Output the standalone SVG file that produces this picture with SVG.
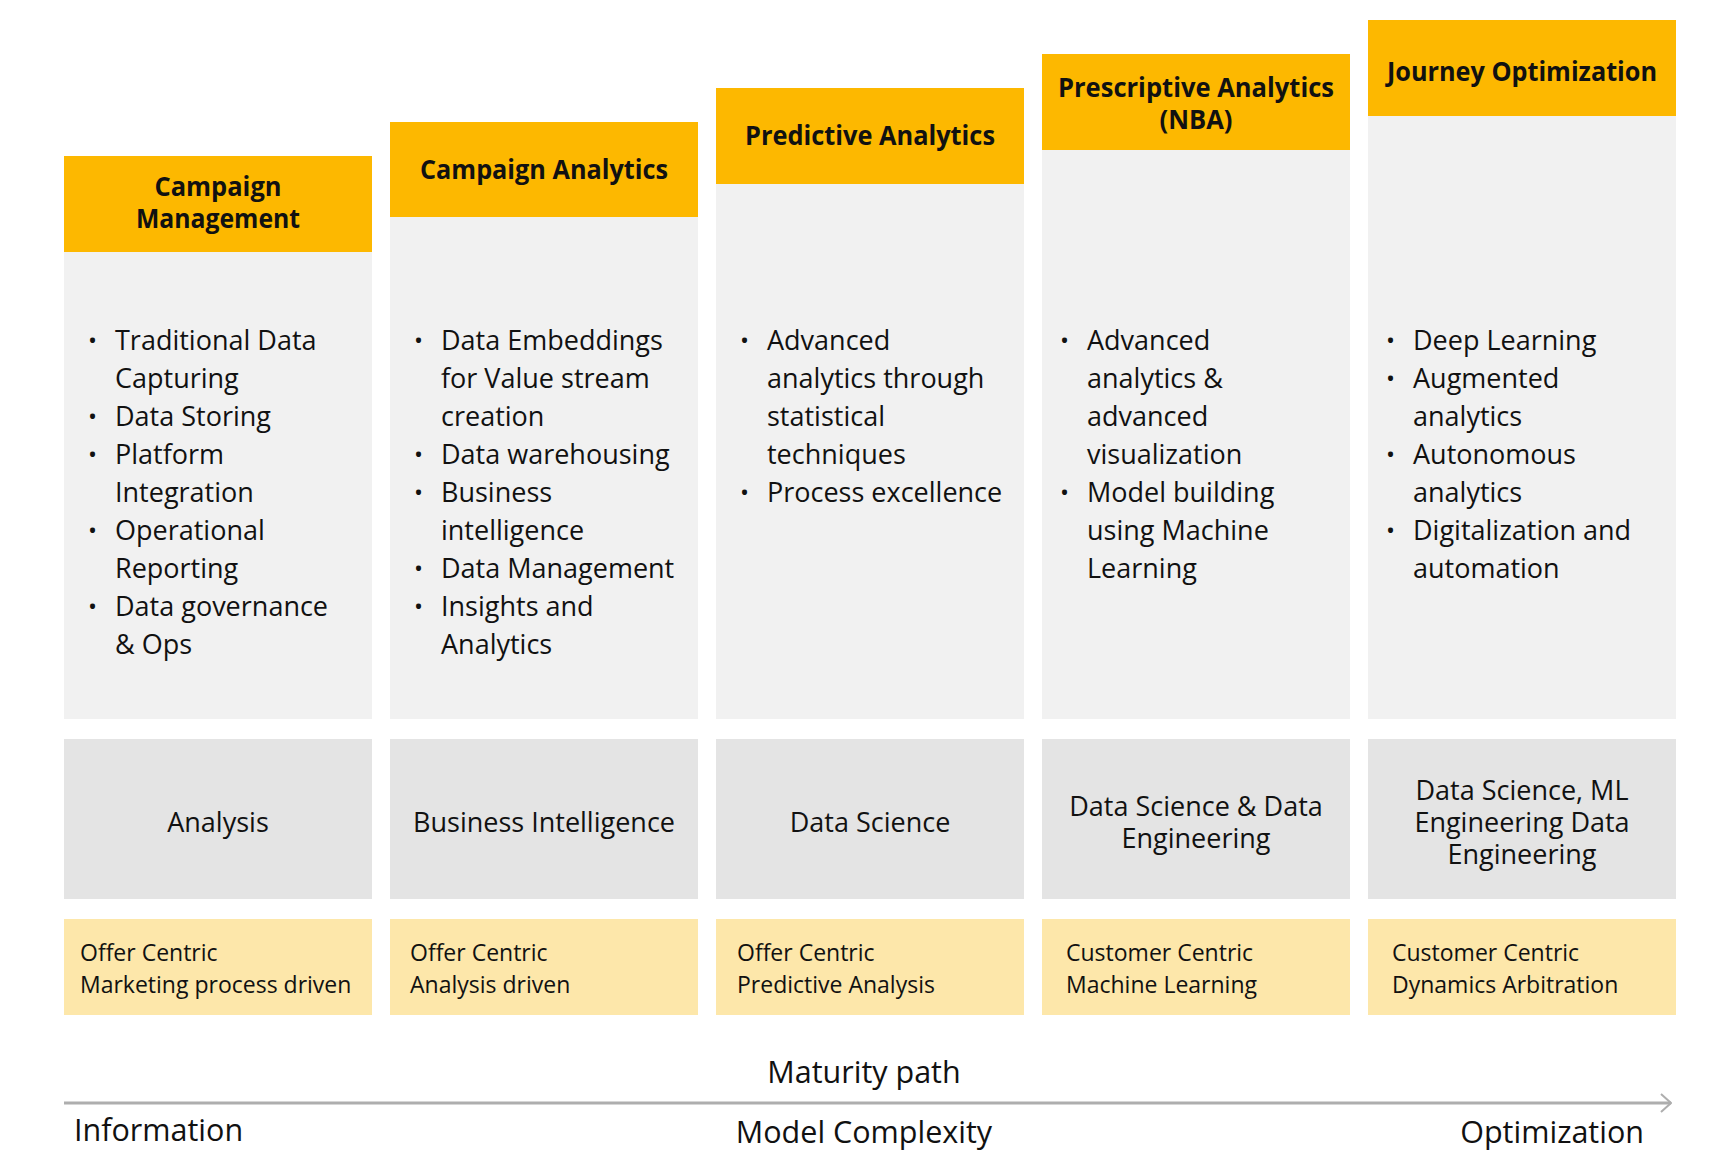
<svg xmlns="http://www.w3.org/2000/svg" width="1730" height="1170" viewBox="0 0 1730 1170">
<style>
.hdr{fill:#FDB800}
.body{fill:#F1F1F1}
.role{fill:#E4E4E4}
.focus{fill:#FDE7AA}
text{font-family:"Open Sans","Noto Sans","DejaVu Sans",sans-serif;fill:#111}
.ht{font-size:26px;font-weight:700;text-anchor:middle}
.bt{font-size:27px}
.bu{font-size:24px}
.rt{font-size:27px;text-anchor:middle}
.ft{font-size:23px}
.ax{font-size:30.5px}
</style>
<defs>
<marker id="chev" viewBox="0 0 12 20" refX="11" refY="10" markerWidth="12" markerHeight="20" markerUnits="userSpaceOnUse" orient="auto">
<path d="M1,1 L11,10 L1,19" fill="none" stroke="#AEAEAE" stroke-width="2"/>
</marker>
</defs>

<!-- Column 1 -->
<g id="col1-body"><rect class="body" x="64" y="250" width="308" height="469"/>
<text class="bu" x="88" y="349">•</text><text class="bt" x="115" y="350">Traditional Data</text>
<text class="bt" x="115" y="388">Capturing</text>
<text class="bu" x="88" y="425">•</text><text class="bt" x="115" y="426">Data Storing</text>
<text class="bu" x="88" y="463">•</text><text class="bt" x="115" y="464">Platform</text>
<text class="bt" x="115" y="502">Integration</text>
<text class="bu" x="88" y="539">•</text><text class="bt" x="115" y="540">Operational</text>
<text class="bt" x="115" y="578">Reporting</text>
<text class="bu" x="88" y="615">•</text><text class="bt" x="115" y="616">Data governance</text>
<text class="bt" x="115" y="654">&amp; Ops</text>
</g>
<g id="col1-header"><rect class="hdr" x="64" y="156" width="308" height="96"/>
<text class="ht" x="218" y="196" textLength="127" lengthAdjust="spacingAndGlyphs">Campaign</text>
<text class="ht" x="218" y="228" textLength="164" lengthAdjust="spacingAndGlyphs">Management</text></g>

<!-- Column 2 -->
<g id="col2-body"><rect class="body" x="390" y="215" width="308" height="504"/>
<text class="bu" x="414" y="349">•</text><text class="bt" x="441" y="350">Data Embeddings</text>
<text class="bt" x="441" y="388">for Value stream</text>
<text class="bt" x="441" y="426">creation</text>
<text class="bu" x="414" y="463">•</text><text class="bt" x="441" y="464">Data warehousing</text>
<text class="bu" x="414" y="501">•</text><text class="bt" x="441" y="502">Business</text>
<text class="bt" x="441" y="540">intelligence</text>
<text class="bu" x="414" y="577">•</text><text class="bt" x="441" y="578">Data Management</text>
<text class="bu" x="414" y="615">•</text><text class="bt" x="441" y="616">Insights and</text>
<text class="bt" x="441" y="654">Analytics</text>
</g>
<g id="col2-header"><rect class="hdr" x="390" y="122" width="308" height="95"/>
<text class="ht" x="544" y="179" textLength="248" lengthAdjust="spacingAndGlyphs">Campaign Analytics</text></g>

<!-- Column 3 -->
<g id="col3-body"><rect class="body" x="716" y="182" width="308" height="537"/>
<text class="bu" x="740" y="349">•</text><text class="bt" x="767" y="350">Advanced</text>
<text class="bt" x="767" y="388">analytics through</text>
<text class="bt" x="767" y="426">statistical</text>
<text class="bt" x="767" y="464">techniques</text>
<text class="bu" x="740" y="501">•</text><text class="bt" x="767" y="502">Process excellence</text>
</g>
<g id="col3-header"><rect class="hdr" x="716" y="88" width="308" height="96"/>
<text class="ht" x="870" y="145" textLength="250" lengthAdjust="spacingAndGlyphs">Predictive Analytics</text></g>

<!-- Column 4 -->
<g id="col4-body"><rect class="body" x="1042" y="148" width="308" height="571"/>
<text class="bu" x="1060" y="349">•</text><text class="bt" x="1087" y="350">Advanced</text>
<text class="bt" x="1087" y="388">analytics &amp;</text>
<text class="bt" x="1087" y="426">advanced</text>
<text class="bt" x="1087" y="464">visualization</text>
<text class="bu" x="1060" y="501">•</text><text class="bt" x="1087" y="502">Model building</text>
<text class="bt" x="1087" y="540">using Machine</text>
<text class="bt" x="1087" y="578">Learning</text>
</g>
<g id="col4-header"><rect class="hdr" x="1042" y="54" width="308" height="96"/>
<text class="ht" x="1196" y="97" textLength="276" lengthAdjust="spacingAndGlyphs">Prescriptive Analytics</text>
<text class="ht" x="1196" y="129" textLength="73" lengthAdjust="spacingAndGlyphs">(NBA)</text></g>

<!-- Column 5 -->
<g id="col5-body"><rect class="body" x="1368" y="114" width="308" height="605"/>
<text class="bu" x="1386" y="349">•</text><text class="bt" x="1413" y="350">Deep Learning</text>
<text class="bu" x="1386" y="387">•</text><text class="bt" x="1413" y="388">Augmented</text>
<text class="bt" x="1413" y="426">analytics</text>
<text class="bu" x="1386" y="463">•</text><text class="bt" x="1413" y="464">Autonomous</text>
<text class="bt" x="1413" y="502">analytics</text>
<text class="bu" x="1386" y="539">•</text><text class="bt" x="1413" y="540">Digitalization and</text>
<text class="bt" x="1413" y="578">automation</text>
</g>
<g id="col5-header"><rect class="hdr" x="1368" y="20" width="308" height="96"/>
<text class="ht" x="1522" y="81" textLength="270" lengthAdjust="spacingAndGlyphs">Journey Optimization</text></g>

<!-- Role row -->
<g id="role1"><rect class="role" x="64" y="739" width="308" height="160"/><text class="rt" x="218" y="832">Analysis</text></g>
<g id="role2"><rect class="role" x="390" y="739" width="308" height="160"/><text class="rt" x="544" y="832">Business Intelligence</text></g>
<g id="role3"><rect class="role" x="716" y="739" width="308" height="160"/><text class="rt" x="870" y="832">Data Science</text></g>
<g id="role4"><rect class="role" x="1042" y="739" width="308" height="160"/><text class="rt" x="1196" y="816">Data Science &amp; Data</text><text class="rt" x="1196" y="848">Engineering</text></g>
<g id="role5"><rect class="role" x="1368" y="739" width="308" height="160"/><text class="rt" x="1522" y="800">Data Science, ML</text><text class="rt" x="1522" y="832">Engineering Data</text><text class="rt" x="1522" y="864">Engineering</text></g>

<!-- Focus row -->
<g id="focus1"><rect class="focus" x="64" y="919" width="308" height="96"/><text class="ft" x="80" y="961">Offer Centric</text><text class="ft" x="80" y="993">Marketing process driven</text></g>
<g id="focus2"><rect class="focus" x="390" y="919" width="308" height="96"/><text class="ft" x="410" y="961">Offer Centric</text><text class="ft" x="410" y="993">Analysis driven</text></g>
<g id="focus3"><rect class="focus" x="716" y="919" width="308" height="96"/><text class="ft" x="737" y="961">Offer Centric</text><text class="ft" x="737" y="993">Predictive Analysis</text></g>
<g id="focus4"><rect class="focus" x="1042" y="919" width="308" height="96"/><text class="ft" x="1066" y="961">Customer Centric</text><text class="ft" x="1066" y="993">Machine Learning</text></g>
<g id="focus5"><rect class="focus" x="1368" y="919" width="308" height="96"/><text class="ft" x="1392" y="961">Customer Centric</text><text class="ft" x="1392" y="993">Dynamics Arbitration</text></g>

<!-- Connectors -->
<g id="connectors">
<line x1="64" y1="1103" x2="1671" y2="1103" stroke="#AEAEAE" stroke-width="3" marker-end="url(#chev)"/>
</g>

<!-- Axis labels -->
<g id="axis-labels">
<text class="ax" x="864" y="1083" text-anchor="middle">Maturity path</text>
<text class="ax" x="74" y="1141">Information</text>
<text class="ax" x="864" y="1143" text-anchor="middle">Model Complexity</text>
<text class="ax" x="1644" y="1143" text-anchor="end">Optimization</text>
</g>
</svg>
